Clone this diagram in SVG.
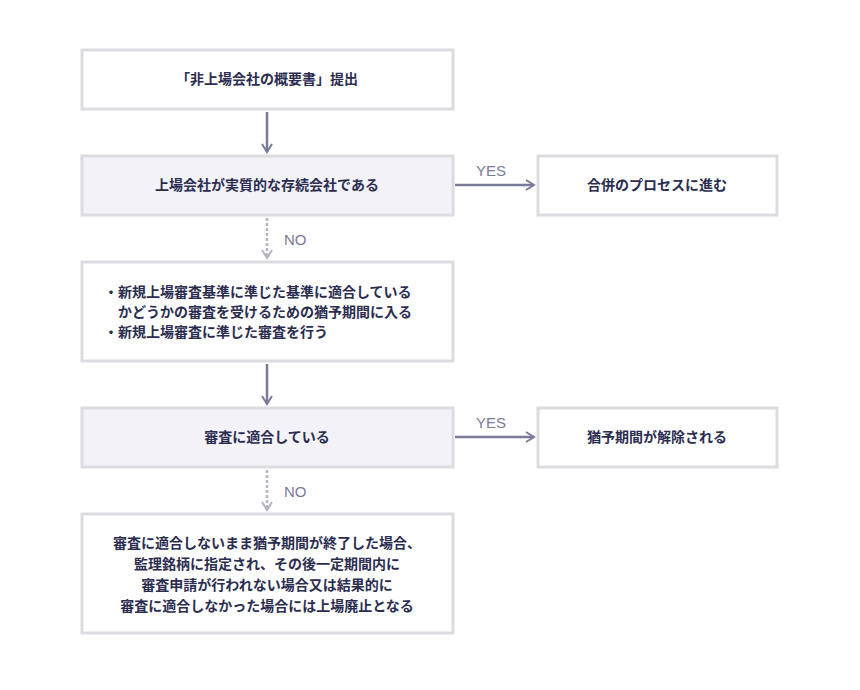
<svg xmlns="http://www.w3.org/2000/svg" width="860" height="690" viewBox="0 0 860 690">
<defs>
<marker id="ah" viewBox="0 0 12 12" refX="10" refY="6" markerWidth="12" markerHeight="12" markerUnits="userSpaceOnUse" orient="auto"><path d="M2,1 L10,6 L2,11" fill="none" stroke="#7a7a99" stroke-width="2"/></marker>
<marker id="ahl" viewBox="0 0 12 12" refX="10" refY="6" markerWidth="12" markerHeight="12" markerUnits="userSpaceOnUse" orient="auto"><path d="M2,1 L10,6 L2,11" fill="none" stroke="#b4b4c8" stroke-width="2"/></marker>
<style>
.b{fill:#fff;stroke:#dcdce0;stroke-width:3}
.f{fill:#f2f2f8;stroke:#dcdce0;stroke-width:3}
.t{font-family:"Noto Sans CJK JP","Noto Sans",sans-serif;font-size:14px;font-weight:bold;fill:#2b2d50;text-anchor:middle}
.l{font-family:"Liberation Sans",sans-serif;font-size:15px;fill:#7a7a99}
.s{stroke:#7a7a99;stroke-width:2.5;fill:none}
.d{stroke:#b4b4c8;stroke-width:2.5;fill:none;stroke-dasharray:3,2}
</style>
</defs>
<rect width="860" height="690" fill="#fff"/>
<g id="n1"><rect class="b" x="82" y="50" width="371" height="59"/><text class="t" x="267" y="84">「非上場会社の概要書」提出</text></g>
<g id="n2"><rect class="f" x="82" y="156" width="371" height="59"/><text class="t" x="267" y="190">上場会社が実質的な存続会社である</text></g>
<g id="n3"><rect class="b" x="538" y="156" width="239" height="59"/><text class="t" x="657" y="190">合併のプロセスに進む</text></g>
<g id="n4"><rect class="b" x="82" y="262" width="371" height="99"/>
<text class="t" style="text-anchor:start" x="104" y="297">・新規上場審査基準に準じた基準に適合している</text>
<text class="t" style="text-anchor:start" x="118" y="317">かどうかの審査を受けるための猶予期間に入る</text>
<text class="t" style="text-anchor:start" x="104" y="337">・新規上場審査に準じた審査を行う</text></g>
<g id="n5"><rect class="f" x="82" y="408" width="371" height="59"/><text class="t" x="267" y="442">審査に適合している</text></g>
<g id="n6"><rect class="b" x="538" y="408" width="239" height="59"/><text class="t" x="657" y="442">猶予期間が解除される</text></g>
<g id="n7"><rect class="b" x="82" y="514" width="371" height="119"/>
<text class="t" x="267" y="548">審査に適合しないまま猶予期間が終了した場合、</text>
<text class="t" x="267" y="569">監理銘柄に指定され、その後一定期間内に</text>
<text class="t" x="267" y="590">審査申請が行われない場合又は結果的に</text>
<text class="t" x="267" y="611">審査に適合しなかった場合には上場廃止となる</text></g>
<g id="edges">
<path class="s" d="M267,112 V152" marker-end="url(#ah)"/>
<path class="s" d="M455,185 H534" marker-end="url(#ah)"/>
<text class="l" x="476" y="176">YES</text>
<path class="d" d="M267,218 V258" marker-end="url(#ahl)"/>
<text class="l" x="284" y="245">NO</text>
<path class="s" d="M267,364 V404" marker-end="url(#ah)"/>
<path class="s" d="M455,437 H534" marker-end="url(#ah)"/>
<text class="l" x="476" y="428">YES</text>
<path class="d" d="M267,470 V510" marker-end="url(#ahl)"/>
<text class="l" x="284" y="497">NO</text>
</g>
</svg>
